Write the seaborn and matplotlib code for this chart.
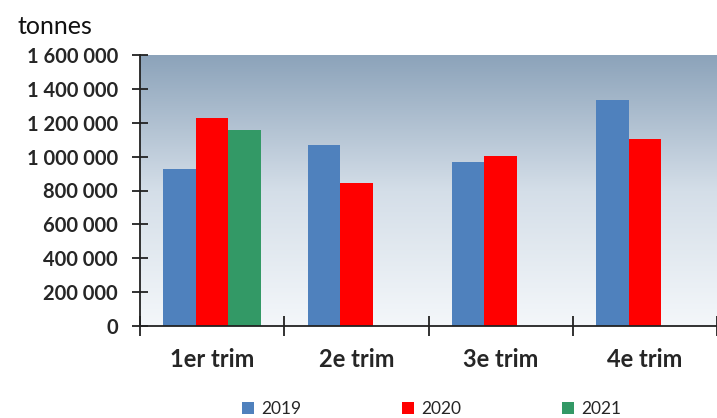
import numpy as np
import pandas as pd
import matplotlib
matplotlib.use("Agg")
import matplotlib.pyplot as plt
import seaborn as sns
from matplotlib.patches import Patch
from matplotlib.colors import LinearSegmentedColormap
from matplotlib.ticker import FuncFormatter, FixedLocator

quarters = ["1er trim", "2e trim", "3e trim", "4e trim"]
years = ["2019", "2020", "2021"]
values_2019 = [929000, 1069000, 969000, 1335000]
values_2020 = [1229000, 844000, 1002000, 1105000]
values_2021 = [1160000, np.nan, np.nan, np.nan]
colors = ["#4F81BD", "#FF0000", "#339966"]
yticks = [0, 200000, 400000, 600000, 800000, 1000000, 1200000, 1400000, 1600000]

rows = []
for y, vals in zip(years, [values_2019, values_2020, values_2021]):
    for q, v in zip(quarters, vals):
        rows.append({"quarter": q, "year": y, "value": v})
df = pd.DataFrame(rows)

sns.set_theme(style="white")
plt.rcParams["font.family"] = ["Lato", "DejaVu Sans"]

fig = plt.figure(figsize=(7.17, 4.18), dpi=100)
ax = fig.add_axes([140/717, 1-326/418, 577/717, (326-55)/418])

# gradient background
cmap = LinearSegmentedColormap.from_list("bg", ["#F4F7FA", "#D4DEE8", "#8CA3BA"])
grad = np.linspace(0, 1, 256).reshape(-1, 1)
ax.imshow(grad, aspect="auto", cmap=cmap, origin="lower",
          extent=[0, 1, 0, 1], transform=ax.transAxes, zorder=0)

sns.barplot(data=df, x="quarter", y="value", hue="year", order=quarters,
            hue_order=years, palette=colors, saturation=1, width=0.675,
            gap=0, errorbar=None, ax=ax, legend=False, zorder=2,
            linewidth=0, edgecolor="none")

ax.set_xlim(-0.5, 3.5)
ax.set_ylim(0, 1600000)
ax.set_xlabel("")
ax.set_ylabel("")
ax.yaxis.set_major_locator(FixedLocator(yticks))
ax.yaxis.set_major_formatter(FuncFormatter(lambda v, p: f"{int(v):,}".replace(",", " ")))

for s in ["top", "right"]:
    ax.spines[s].set_visible(False)
for s in ["left", "bottom"]:
    ax.spines[s].set_color("#222222")
    ax.spines[s].set_linewidth(1.3)
    ax.spines[s].set_zorder(5)

ax.tick_params(axis="y", direction="inout", length=12, width=1.3, color="#222222",
               labelsize=14.5, pad=10, left=True)
for lab in ax.get_yticklabels():
    lab.set_fontweight("bold")
ax.set_xticks([-0.5, 0.5, 1.5, 2.5, 3.5], minor=True)
ax.tick_params(axis="x", which="minor", direction="inout", length=14, width=1.3,
               color="#222222", bottom=True)
ax.tick_params(axis="x", which="major", length=0, labelsize=17, pad=16)
for lab in ax.get_xticklabels():
    lab.set_fontweight("bold")

fig.text(17/717, 1-27/418, "tonnes", fontsize=18, va="center", ha="left", color="#111111")

handles = [Patch(facecolor=c, edgecolor="none", label=y) for c, y in zip(colors, years)]
ax.legend(handles=handles, loc="center", bbox_to_anchor=(0.505, -0.305), ncol=3,
          frameon=False, fontsize=12.5, handlelength=0.7, handleheight=0.7,
          handletextpad=0.4, columnspacing=5.8)

fig.savefig("out.png", dpi=100)
